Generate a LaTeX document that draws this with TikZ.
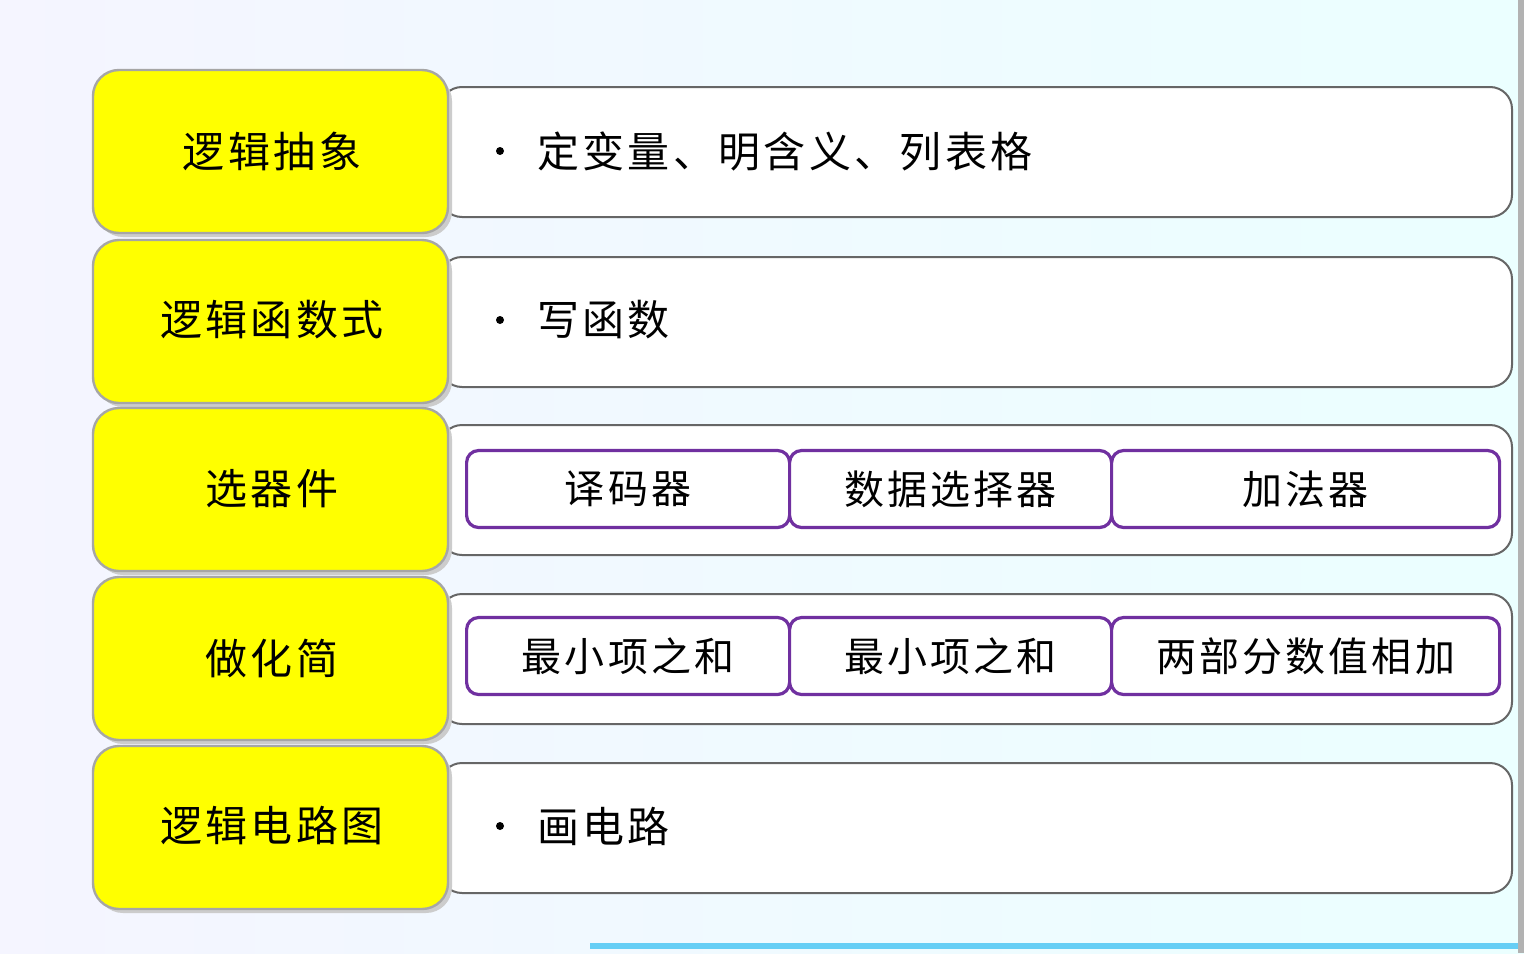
\documentclass[tikz,border=0pt]{standalone}
\usepackage{fontspec}
\newfontfamily\cjk[LetterSpace=8]{Noto Sans CJK SC}
\definecolor{pur}{HTML}{7030A0}
\definecolor{yel}{HTML}{FFFF00}
\begin{document}
\begin{tikzpicture}[x=0.5pt,y=-0.5pt,
  ybox/.style={draw=gray!70,line width=1.2pt,fill=yel,rounded corners=13pt},
  wbox/.style={draw=gray!80!black,line width=1pt,fill=white,rounded corners=11pt},
  pbox/.style={draw=pur,line width=1.6pt,fill=white,rounded corners=6pt,minimum width=#1*0.5pt,minimum height=38.5pt,inner sep=0pt,font=\cjk\fontsize{20}{24}\selectfont,anchor=west},
  lab/.style={font=\cjk\fontsize{21}{25}\selectfont},
  btxt/.style={font=\cjk\fontsize{21}{25}\selectfont,anchor=west},
  bul/.style={circle,fill=black,inner sep=0pt,minimum size=4pt}]
\fill[left color=blue!4,right color=cyan!8] (0,0) rectangle (1524,953);
\useasboundingbox (0,0) rectangle (1524,953);
\fill[cyan!60] (590,943) rectangle (1520,949);
\fill[gray!60] (1518,0) rectangle (1524,953);
\foreach \i/\yt in {0/70,1/240,2/408,3/577,4/746}{
  \draw[wbox] (440,\yt+17) rectangle (1512,\yt+147);
  \fill[gray!40] (97,\yt+5) [rounded corners=13pt] rectangle (452,\yt+167);
  \draw[ybox] (93,\yt) rectangle (448,\yt+163);
}
\node[lab] (l1) at (272,151) {逻辑抽象};
\node[lab] (l2) at (272,320) {逻辑函数式};
\node[lab] (l3) at (272,489) {选器件};
\node[lab] (l4) at (272,658) {做化简};
\node[lab] (l5) at (272,826) {逻辑电路图};
\node[bul] (d1) at (500,151) {};
\node[bul] (d2) at (500,320) {};
\node[bul] (d5) at (500,826) {};
\node[btxt] (t1) at (530,151) {定变量、明含义、列表格};
\node[btxt] (t2) at (530,320) {写函数};
\node[btxt] (t5) at (530,826) {画电路};
\node[pbox=323] (a1) at (465,489) {译码器};
\node[pbox=322] (a2) at (788,489) {数据选择器};
\node[pbox=388] (a3) at (1110,489) {加法器};
\node[pbox=323] (b1) at (465,656) {最小项之和};
\node[pbox=322] (b2) at (788,656) {最小项之和};
\node[pbox=388] (b3) at (1110,656) {两部分数值相加};
\end{tikzpicture}
\end{document}
